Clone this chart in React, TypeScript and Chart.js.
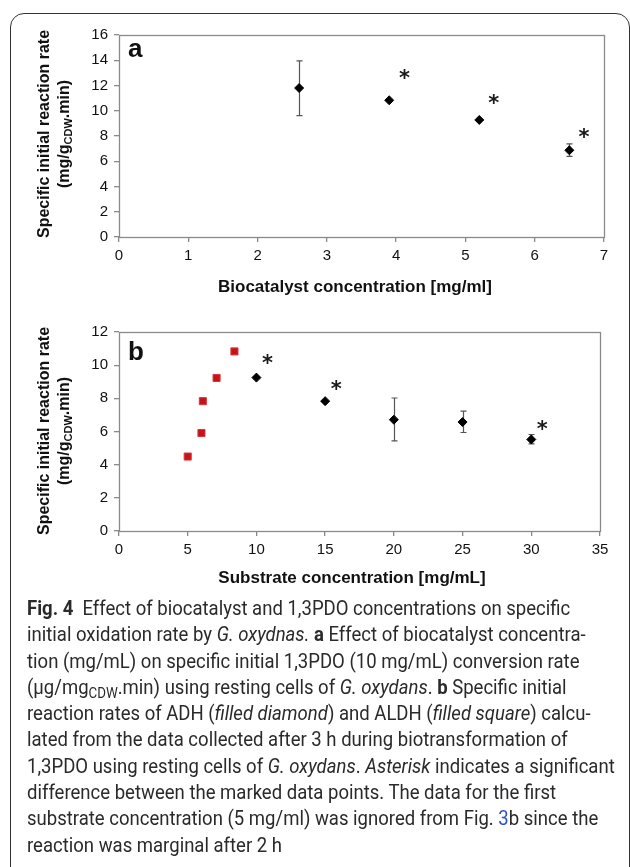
import React, { useEffect, useLayoutEffect, useRef, useState } from 'react';
import { Chart, registerables } from 'chart.js';
Chart.register(...registerables);

// ---------- Panel a data ----------
const aConc = [2.6, 3.9, 5.2, 6.5];
const aRate = [11.8, 10.83, 9.27, 6.87];
const aErrHigh: (number | null)[] = [13.95, null, null, 7.37];
const aErrLow: (number | null)[] = [9.62, null, null, 6.39];
const aStarX = [4.12, 5.41, 6.71];
const aStarY = [12.9, 10.93, 8.21];
const aXMax = 7;
const aYMax = 16;
const aYStep = 2;
const aXStep = 1;

// ---------- Panel b data ----------
const bAdhConc = [10, 15, 20, 25, 30];
const bAdhRate = [9.25, 7.83, 6.71, 6.57, 5.52];
const bAdhErrHigh: (number | null)[] = [null, null, 8.02, 7.23, 5.82];
const bAdhErrLow: (number | null)[] = [null, null, 5.44, 5.94, 5.25];
const bAldhConc = [5.0, 6.0, 6.1, 7.1, 8.4];
const bAldhRate = [4.49, 5.91, 7.83, 9.23, 10.83];
const bStarX = [10.8, 15.8, 30.8];
const bStarY = [10.36, 8.8, 6.4];
const bXMax = 35;
const bYMax = 12;
const bYStep = 2;
const bXStep = 5;

const TICK_FONT = { family: "'Liberation Sans', Arial, sans-serif", size: 15 };
const AXIS_GRAY = '#8a8a8a';

const framePlugin = {
  id: 'frame',
  beforeDatasetsDraw(chart: any) {
    const { ctx, chartArea: a } = chart;
    ctx.save();
    ctx.strokeStyle = AXIS_GRAY;
    ctx.lineWidth = 1.3;
    ctx.strokeRect(Math.round(a.left) + 0.5, Math.round(a.top) + 0.5, Math.round(a.right - a.left), Math.round(a.bottom - a.top));
    ctx.restore();
  },
};

const errorBarPlugin = {
  id: 'errbars',
  beforeDatasetsDraw(chart: any) {
    const { ctx } = chart;
    const xs = chart.scales.x;
    const ys = chart.scales.y;
    ctx.save();
    ctx.strokeStyle = '#555';
    ctx.lineWidth = 1.2;
    chart.data.datasets.forEach((ds: any) => {
      if (!ds.errHigh) return;
      ds.data.forEach((p: any, i: number) => {
        const hi = ds.errHigh[i];
        const lo = ds.errLow[i];
        if (hi == null || lo == null) return;
        const x = Math.round(xs.getPixelForValue(p.x)) + 0.5;
        const yh = ys.getPixelForValue(hi);
        const yl = ys.getPixelForValue(lo);
        ctx.beginPath();
        ctx.moveTo(x, yh);
        ctx.lineTo(x, yl);
        ctx.moveTo(x - 3, yh);
        ctx.lineTo(x + 3, yh);
        ctx.moveTo(x - 3, yl);
        ctx.lineTo(x + 3, yl);
        ctx.stroke();
      });
    });
    ctx.restore();
  },
};

const starPlugin = {
  id: 'stars',
  afterDatasetsDraw(chart: any, _args: any, opts: any) {
    if (!opts || !opts.xs) return;
    const { ctx } = chart;
    const xs = chart.scales.x;
    const ys = chart.scales.y;
    ctx.save();
    ctx.fillStyle = '#1a1a1a';
    ctx.font = "bold 21px 'DejaVu Sans', sans-serif";
    ctx.textAlign = 'center';
    ctx.textBaseline = 'alphabetic';
    const m = ctx.measureText('*');
    const off = (m.actualBoundingBoxAscent - m.actualBoundingBoxDescent) / 2;
    opts.xs.forEach((xv: number, i: number) => {
      ctx.fillText('*', xs.getPixelForValue(xv), ys.getPixelForValue(opts.ys[i]) + off);
    });
    ctx.restore();
  },
};

const panelLabelPlugin = {
  id: 'panelLabel',
  afterDraw(chart: any, _args: any, opts: any) {
    if (!opts || !opts.text) return;
    const { ctx, chartArea: a } = chart;
    ctx.save();
    ctx.fillStyle = '#111';
    ctx.font = "bold 26px 'Liberation Sans', Arial, sans-serif";
    ctx.textAlign = 'left';
    ctx.textBaseline = 'alphabetic';
    ctx.fillText(opts.text, a.left + opts.dx, a.top + opts.dy);
    ctx.restore();
  },
};

function makeScales(xMax: number, xStep: number, yMax: number, yStep: number, xHeight: number) {
  const grid = {
    display: true,
    drawOnChartArea: false,
    drawTicks: true,
    tickLength: 5,
    color: AXIS_GRAY,
    lineWidth: 1.3,
  };
  return {
    x: {
      type: 'linear' as const,
      min: 0,
      max: xMax,
      grid,
      border: { display: false },
      ticks: { stepSize: xStep, font: TICK_FONT, color: '#111', padding: 5 },
      afterFit: (s: any) => {
        s.height = xHeight;
      },
    },
    y: {
      type: 'linear' as const,
      min: 0,
      max: yMax,
      grid,
      border: { display: false },
      ticks: { stepSize: yStep, font: TICK_FONT, color: '#111', padding: 6 },
      afterFit: (s: any) => {
        s.width = 119;
      },
    },
  };
}

function PanelA() {
  const ref = useRef<HTMLCanvasElement | null>(null);
  useEffect(() => {
    if (!ref.current) return;
    const chart = new Chart(ref.current, {
      type: 'scatter',
      data: {
        datasets: [
          {
            label: 'rate',
            data: aConc.map((x, i) => ({ x, y: aRate[i] })),
            pointStyle: 'rectRot',
            pointRadius: 4.5,
            backgroundColor: '#000',
            borderColor: '#000',
            borderWidth: 1,
            errHigh: aErrHigh,
            errLow: aErrLow,
          } as any,
        ],
      },
      options: {
        responsive: false,
        animation: false,
        devicePixelRatio: 1,
        layout: { padding: { top: 35, right: 26, left: 0, bottom: 0 } },
        scales: makeScales(aXMax, aXStep, aYMax, aYStep, 63) as any,
        plugins: {
          legend: { display: false },
          tooltip: { enabled: false },
          stars: { xs: aStarX, ys: aStarY },
          panelLabel: { text: 'a', dx: 9, dy: 22 },
        } as any,
      },
      plugins: [framePlugin, errorBarPlugin, starPlugin, panelLabelPlugin],
    });
    return () => chart.destroy();
  }, []);
  return <canvas ref={ref} width={630} height={300} style={{ position: 'absolute', left: 0, top: 0, width: 630, height: 300 }} />;
}

function PanelB() {
  const ref = useRef<HTMLCanvasElement | null>(null);
  useEffect(() => {
    if (!ref.current) return;
    const chart = new Chart(ref.current, {
      type: 'scatter',
      data: {
        datasets: [
          {
            label: 'ADH',
            data: bAdhConc.map((x, i) => ({ x, y: bAdhRate[i] })),
            pointStyle: 'rectRot',
            pointRadius: 4.5,
            backgroundColor: '#000',
            borderColor: '#000',
            borderWidth: 1,
            errHigh: bAdhErrHigh,
            errLow: bAdhErrLow,
          } as any,
          {
            label: 'ALDH',
            data: bAldhConc.map((x, i) => ({ x, y: bAldhRate[i] })),
            pointStyle: 'rect',
            pointRadius: 5,
            backgroundColor: '#c8121a',
            borderColor: '#d33a3a',
            borderWidth: 1,
          },
        ],
      },
      options: {
        responsive: false,
        animation: false,
        devicePixelRatio: 1,
        layout: { padding: { top: 35, right: 30, left: 0, bottom: 0 } },
        scales: makeScales(bXMax, bXStep, bYMax, bYStep, 66) as any,
        plugins: {
          legend: { display: false },
          tooltip: { enabled: false },
          stars: { xs: bStarX, ys: bStarY },
          panelLabel: { text: 'b', dx: 9, dy: 28 },
        } as any,
      },
      plugins: [framePlugin, errorBarPlugin, starPlugin, panelLabelPlugin],
    });
    return () => chart.destroy();
  }, []);
  return <canvas ref={ref} width={630} height={300} style={{ position: 'absolute', left: 0, top: 297, width: 630, height: 300 }} />;
}

const titleFont = "'Liberation Sans', Arial, sans-serif";

function YTitle({ cy }: { cy: number }) {
  return (
    <div
      style={{
        position: 'absolute',
        left: 54,
        top: cy,
        transform: 'translate(-50%, -50%) rotate(-90deg)',
        whiteSpace: 'nowrap',
        textAlign: 'center',
        fontFamily: titleFont,
        fontWeight: 'bold',
        fontSize: 16,
        lineHeight: '20px',
        color: '#111',
      }}
    >
      <div>Specific initial reaction rate</div>
      <div>
        (mg/g<span style={{ fontSize: 11, position: 'relative', top: 3 }}>CDW</span>.min)
      </div>
    </div>
  );
}

function XTitle({ cx, cy, text }: { cx: number; cy: number; text: string }) {
  return (
    <div
      style={{
        position: 'absolute',
        left: cx,
        top: cy,
        transform: 'translate(-50%, -50%)',
        whiteSpace: 'nowrap',
        fontFamily: titleFont,
        fontWeight: 'bold',
        fontSize: 17,
        color: '#111',
      }}
    >
      {text}
    </div>
  );
}

const capFont = "'Roboto', sans-serif";
const CAPTION_WIDTH = 588;

function Caption() {
  const ref = useRef<HTMLDivElement | null>(null);
  const [sx, setSx] = useState(1);
  useLayoutEffect(() => {
    if (!ref.current) return;
    const w = ref.current.offsetWidth;
    if (w > 0) setSx(CAPTION_WIDTH / w);
  }, []);
  const line: React.CSSProperties = { whiteSpace: 'nowrap', height: 26.3, lineHeight: '26.3px' };
  return (
    <div
      ref={ref}
      style={{
        position: 'absolute',
        left: 27,
        top: 596,
        width: 'max-content',
        fontFamily: capFont,
        fontSize: 19.5,
        color: '#2a2a2a',
        transform: `scaleX(${sx})`,
        transformOrigin: 'left top',
      }}
    >
      <div style={line}>
        <b>Fig. 4</b>&nbsp; Effect of biocatalyst and 1,3PDO concentrations on specific
      </div>
      <div style={line}>
        initial oxidation rate by <i>G. oxydnas.</i> <b>a</b> Effect of biocatalyst concentra-
      </div>
      <div style={line}>tion (mg/mL) on specific initial 1,3PDO (10 mg/mL) conversion rate</div>
      <div style={line}>
        (μg/mg<span style={{ fontSize: 14, position: 'relative', top: 4 }}>CDW</span>.min) using resting cells of{' '}
        <i>G. oxydans</i>. <b>b</b> Specific initial
      </div>
      <div style={line}>
        reaction rates of ADH (<i>filled diamond</i>) and ALDH (<i>filled square</i>) calcu-
      </div>
      <div style={line}>lated from the data collected after 3 h during biotransformation of</div>
      <div style={line}>
        1,3PDO using resting cells of <i>G. oxydans</i>. <i>Asterisk</i> indicates a significant
      </div>
      <div style={line}>difference between the marked data points. The data for the first</div>
      <div style={line}>
        substrate concentration (5 mg/ml) was ignored from Fig. <span style={{ color: '#2a52c9' }}>3</span>b since the
      </div>
      <div style={line}>reaction was marginal after 2 h</div>
    </div>
  );
}

export default function App() {
  return (
    <div style={{ position: 'fixed', left: 0, top: 0, width: 630, height: 867, overflow: 'hidden', background: '#fff' }}>
      <div
        style={{
          position: 'absolute',
          left: 10,
          top: 13,
          width: 620,
          height: 900,
          boxSizing: 'border-box',
          border: '1.3px solid #333',
          borderRadius: 14,
        }}
      />
      <PanelA />
      <PanelB />
      <YTitle cy={134} />
      <YTitle cy={431} />
      <XTitle cx={355} cy={287} text="Biocatalyst concentration [mg/ml]" />
      <XTitle cx={352} cy={578} text="Substrate concentration [mg/mL]" />
      <Caption />
    </div>
  );
}
